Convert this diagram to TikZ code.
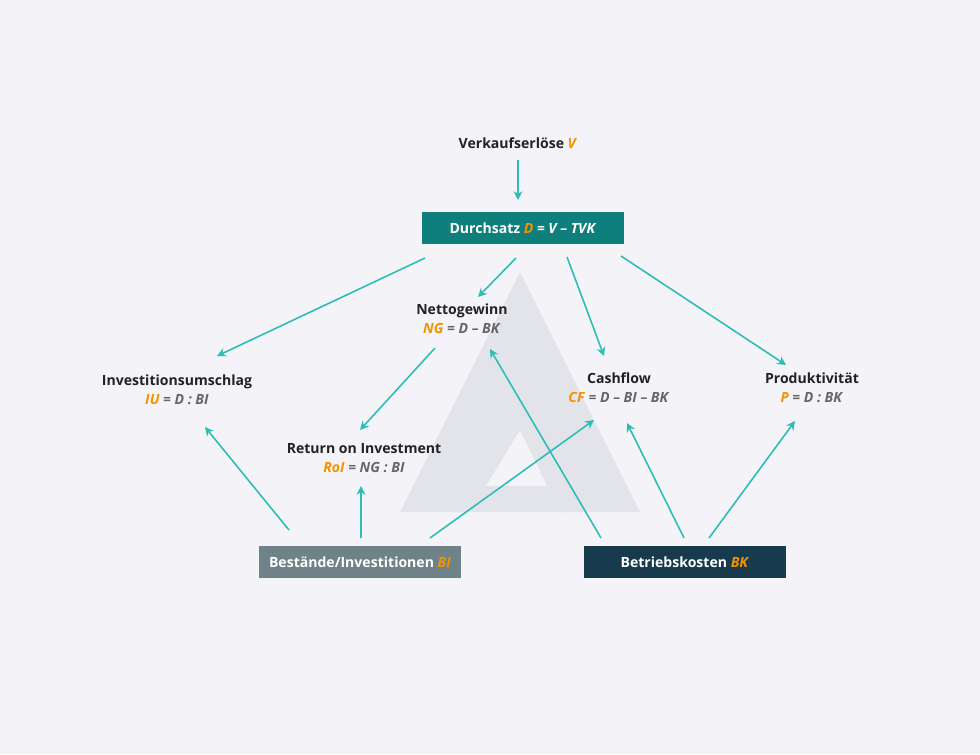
\documentclass[tikz,border=0pt]{standalone}
\usepackage{fontspec}
\setmainfont{Open Sans}
\usetikzlibrary{arrows.meta}
\definecolor{bg}{HTML}{F4F4F8}
\definecolor{teal}{HTML}{0E7F7A}
\definecolor{arrowc}{HTML}{2BBDB6}
\definecolor{slate}{HTML}{6E8288}
\definecolor{navy}{HTML}{173B4D}
\definecolor{orng}{HTML}{F39200}
\definecolor{txt}{HTML}{222222}
\definecolor{frm}{HTML}{666666}
\definecolor{logo}{HTML}{E3E4EA}
\newcommand{\vr}[1]{\textcolor{orng}{\textit{#1}}}
\newcommand{\fm}[1]{\textcolor{frm}{\textit{#1}}}
\begin{document}
\begin{tikzpicture}[x=0.02cm,y=-0.02cm,
    every node/.style={font=\fontsize{8}{11}\selectfont\bfseries, text=txt, align=center},
    box/.style={minimum width=4.04cm, minimum height=0.64cm, text=white},
    link/.style={-{Stealth[length=5pt,width=5pt]}, arrowc, line width=0.9pt}]
    \fill[bg] (0,0) rectangle (980,754);

    % watermark
    \fill[logo] (520,272) -- (640,512) -- (560,512) -- (520,430) -- (470,512) -- (400,512) -- cycle;
    \fill[logo] (462,486) -- (556,486) -- (570,512) -- (452,512) -- cycle;

    \node (verkauf) at (518,143) {Verkaufserlöse \vr{V}};
    \node[box, fill=teal] (durchsatz) at (523,228) {Durchsatz \vr{D} \textit{= V – TVK}};
    \node (netto) at (462,319) {Nettogewinn\\\vr{NG} \fm{= D – BK}};
    \node (invest) at (177,390) {Investitionsumschlag\\\vr{IU} \fm{= D : BI}};
    \node (roi) at (364,458) {Return on Investment\\\vr{RoI} \fm{= NG : BI}};
    \node (cash) at (619,388) {Cashflow\\\vr{CF} \fm{= D – BI – BK}};
    \node (prod) at (812,388) {Produktivität\\\vr{P} \fm{= D : BK}};
    \node[box, fill=slate] (bestand) at (360,562) {Bestände/Investitionen \vr{BI}};
    \node[box, fill=navy] (betrieb) at (685,562) {Betriebskosten \vr{BK}};

    \coordinate (d1) at (425,258); \coordinate (d2) at (516,258);
    \coordinate (d3) at (567,257); \coordinate (d4) at (621,256);
    \coordinate (n1) at (435,348);
    \coordinate (b1) at (289,530); \coordinate (b2) at (361,538); \coordinate (b3) at (430,538);
    \coordinate (k1) at (601,538); \coordinate (k2) at (684,538); \coordinate (k3) at (709,538);

    \draw[link] (518,160) -- (518,200);
    \draw[link] (d1) -- (217,356);
    \draw[link] (d2) -- (478,297);
    \draw[link] (d3) -- (604,356);
    \draw[link] (d4) -- (786,365);
    \draw[link] (n1) -- (360,430);
    \draw[link] (b1) -- (205,427);
    \draw[link] (b2) -- (361,486);
    \draw[link] (b3) -- (594,420);
    \draw[link] (k1) -- (490,349);
    \draw[link] (k2) -- (627,423);
    \draw[link] (k3) -- (709,538) -- (795,421);
\end{tikzpicture}
\end{document}
